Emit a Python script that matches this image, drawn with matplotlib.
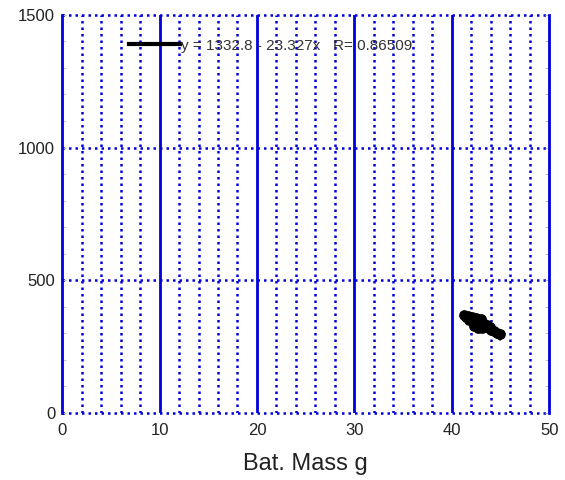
import matplotlib
matplotlib.use("Agg")
import matplotlib.pyplot as plt
from matplotlib.ticker import MultipleLocator
import numpy as np

plt.rcParams["font.family"] = ["Liberation Sans", "DejaVu Sans"]

# Measured samples: bat mass (g) vs value
mass = [41.3, 41.5, 41.7, 41.8, 42.0, 42.2, 42.4, 42.5, 42.7, 42.9, 43.0, 43.2,
        43.4, 43.6, 43.8, 44.0, 44.3, 44.6, 44.9, 42.3, 42.8, 43.1, 42.6, 43.3,
        42.1, 43.9, 42.7, 43.0, 42.4]
value = [370, 362, 366, 350, 356, 344, 340, 358, 338, 345, 330, 338,
         324, 330, 318, 314, 310, 302, 296, 326, 350, 318, 330, 334,
         362, 322, 318, 352, 330]

fit_intercept = 1332.8
fit_slope = -23.327
fit_r = 0.86509

x_ticks = [0, 10, 20, 30, 40, 50]
y_ticks = [0, 500, 1000, 1500]

fig = plt.figure(figsize=(5.65, 4.8), dpi=100)
ax = fig.add_axes([0.110, 0.140, 0.862, 0.829])

blue = "#0000dd"
ax.set_xlim(0, 50)
ax.set_ylim(0, 1500)

# grid: solid major verticals, dotted minor verticals, dotted horizontals
dots = (0, (1.0, 1.6))
for x in np.arange(2, 50, 2):
    if x % 10 == 0:
        ax.axvline(x, color=blue, lw=2.0, zorder=1)
    else:
        ax.axvline(x, color=blue, lw=1.8, ls=dots, zorder=1)
for y in y_ticks:
    ax.axhline(y, color=blue, lw=1.8, ls=dots, zorder=1, clip_on=False)

for s in ["top", "bottom"]:
    ax.spines[s].set_visible(False)
for s in ["left", "right"]:
    ax.spines[s].set_color(blue)
    ax.spines[s].set_linewidth(2.0)

ax.set_xticks(x_ticks)
ax.set_yticks(y_ticks)
ax.yaxis.set_minor_locator(MultipleLocator(100))
ax.tick_params(axis="both", which="both", direction="in", color="#bbbbbb",
               labelsize=12, labelcolor="#222222")
ax.tick_params(axis="y", which="both", right=True, length=3, pad=5)
ax.tick_params(axis="x", length=0, pad=7)

ax.scatter(mass, value, s=60, color="black", zorder=3, linewidths=0)
xf = np.array([min(mass), max(mass)])
ax.plot(xf, fit_intercept + fit_slope * xf, color="black", lw=4, zorder=3,
        label=f"y = {fit_intercept} - {abs(fit_slope)}x   R= {fit_r}")

leg = ax.legend(loc="upper left", bbox_to_anchor=(0.11, 0.975), frameon=False,
                fontsize=11, handlelength=3.3, handletextpad=0.1)
for t in leg.get_texts():
    t.set_color("#333333")
for h in leg.get_lines():
    h.set_linewidth(3)

ax.set_xlabel("Bat. Mass g", fontsize=17, color="#222222", labelpad=11)

fig.savefig("out.png", dpi=100)
